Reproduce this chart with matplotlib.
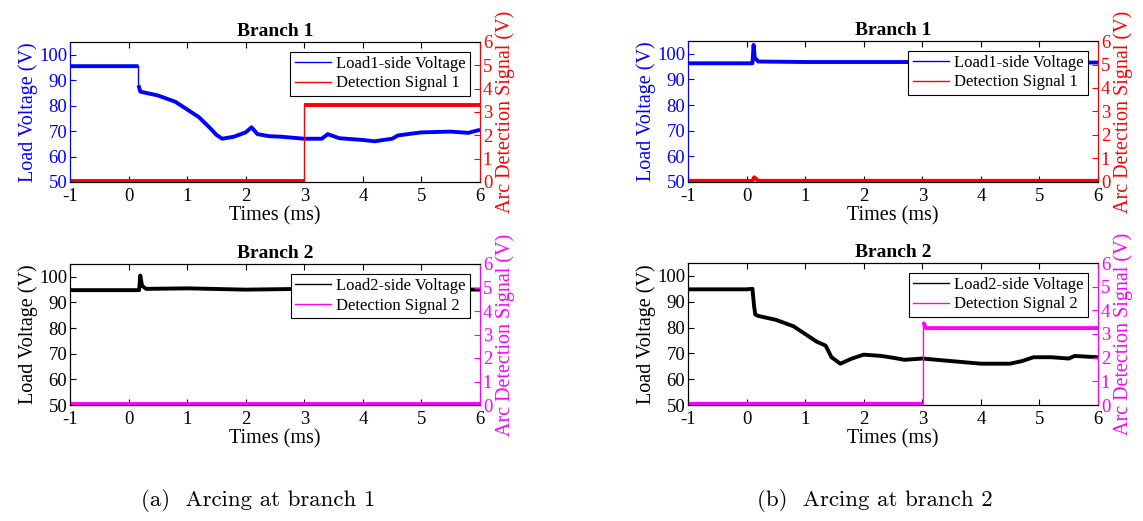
import matplotlib
matplotlib.use("Agg")
import numpy as np
import matplotlib.pyplot as plt

plt.rcParams['font.family'] = ['Liberation Serif', 'DejaVu Serif']
plt.rcParams['axes.unicode_minus'] = False

# time axis (ms) and readings, case (a): arcing at branch 1
a_v1_t = [-1.0, 0.17, 0.17, 0.2, 0.5, 0.8, 1.0, 1.2, 1.4, 1.5, 1.6, 1.8, 2.0, 2.1, 2.2, 2.4,
          2.6, 3.0, 3.3, 3.4, 3.6, 4.0, 4.2, 4.5, 4.6, 5.0, 5.5, 5.8, 6.0]
a_v1 = [95.5, 95.5, 88.0, 85.5, 84.0, 81.5, 78.5, 75.5, 71.0, 68.5, 67.0, 67.8, 69.5, 71.5, 68.8, 68.0,
        67.8, 67.0, 67.0, 68.8, 67.2, 66.5, 66.0, 67.0, 68.3, 69.5, 69.8, 69.3, 70.5]
a_s1_t = [-1.0, 3.0, 3.0, 6.0]
a_s1 = [0.05, 0.05, 3.3, 3.3]
a_v2_t = [-1.0, 0.18, 0.2, 0.23, 0.3, 1.0, 2.0, 3.0, 4.0, 5.0, 6.0]
a_v2 = [94.8, 94.8, 100.5, 96.5, 95.3, 95.5, 95.0, 95.3, 95.2, 95.2, 95.0]
a_s2_t = [-1.0, 6.0]
a_s2 = [0.05, 0.05]

# case (b): arcing at branch 2
b_v1_t = [-1.0, 0.1, 0.12, 0.14, 0.2, 1.0, 2.0, 3.0, 4.0, 5.0, 6.0]
b_v1 = [96.3, 96.3, 103.5, 98.5, 97.0, 96.8, 96.8, 96.8, 96.6, 96.6, 96.6]
b_s1_t = [-1.0, 0.1, 0.13, 0.2, 6.0]
b_s1 = [0.05, 0.05, 0.2, 0.05, 0.05]
b_v2_t = [-1.0, 0.0, 0.1, 0.13, 0.15, 0.2, 0.5, 0.8, 1.0, 1.2, 1.35, 1.45, 1.6, 1.8, 2.0, 2.3, 2.5,
          2.7, 3.0, 3.5, 4.0, 4.5, 4.7, 4.9, 5.2, 5.5, 5.6, 6.0]
b_v2 = [94.8, 94.8, 95.0, 88.0, 85.0, 84.5, 83.0, 80.5, 77.5, 74.5, 73.0, 68.5, 66.0, 68.0, 69.5, 69.0, 68.3,
        67.5, 68.0, 67.0, 66.0, 66.0, 67.0, 68.5, 68.5, 68.0, 69.0, 68.5]
b_s2_t = [-1.0, 3.02, 3.02, 3.06, 6.0]
b_s2 = [0.05, 0.05, 3.5, 3.25, 3.25]

W, H = 1143, 521
fig = plt.figure(figsize=(W / 100, H / 100), dpi=100)
FS = 13.5


def trace(ax, t, y, col):
    # thin line everywhere, thick band where the signal is not jumping
    ax.plot(t, y, color=col, lw=1.0)
    tt, yy = [t[0]], [y[0]]
    for i in range(1, len(t)):
        if t[i] == t[i - 1]:
            tt.append(t[i])
            yy.append(np.nan)
        tt.append(t[i])
        yy.append(y[i])
    ax.plot(tt, yy, color=col, lw=2.8, solid_capstyle='butt')


def panel(box, title, t_v, v, t_s, s, vcol, scol, vlab, slab):
    l, t, r, b = box
    ax = fig.add_axes([l / W, 1 - b / H, (r - l) / W, (b - t) / H])
    ax2 = ax.twinx()
    trace(ax, t_v, v, vcol)
    trace(ax2, t_s, s, scol)
    ax.set_xlim(-1, 6)
    ax.set_xticks(range(-1, 7))
    ax.set_ylim(50, 105)
    ax.set_yticks(range(50, 101, 10))
    ax2.set_ylim(0, 6)
    ax2.set_yticks(range(0, 7))
    ax.set_title(title, fontsize=14, fontweight='bold', pad=4)
    ax.set_xlabel('Times (ms)', fontsize=14.5, labelpad=1)
    ax.set_ylabel('Load Voltage (V)', fontsize=14.5, color=vcol, labelpad=1)
    ax2.set_ylabel('Arc Detection Signal (V)', fontsize=14.5, color=scol, labelpad=2)
    ax.tick_params(axis='x', direction='in', top=True, labelsize=FS, length=4, pad=4)
    ax.tick_params(axis='y', direction='in', colors=vcol, labelsize=FS, length=4, pad=2)
    ax2.tick_params(axis='y', direction='in', colors=scol, labelsize=FS, length=4, pad=2)
    ax2.spines['left'].set_color(vcol)
    ax2.spines['right'].set_color(scol)
    ax.spines['left'].set_color(vcol)
    ax.spines['right'].set_color(scol)
    h1 = plt.Line2D([], [], color=vcol, lw=1.0)
    h2 = plt.Line2D([], [], color=scol, lw=1.0)
    leg = ax2.legend([h1, h2], [vlab, slab], loc='upper right', fontsize=12,
                     fancybox=False, edgecolor='black', framealpha=1,
                     borderpad=0.25, labelspacing=0.2, handlelength=2.2,
                     handletextpad=0.3, borderaxespad=0.6)
    leg.get_frame().set_linewidth(0.8)


panel((70, 42, 480, 182), 'Branch 1', a_v1_t, a_v1, a_s1_t, a_s1, 'blue', 'red',
      'Load1-side Voltage', 'Detection Signal 1')
panel((70, 264, 480, 405), 'Branch 2', a_v2_t, a_v2, a_s2_t, a_s2, 'black', 'magenta',
      'Load2-side Voltage', 'Detection Signal 2')
panel((688, 41, 1098, 182), 'Branch 1', b_v1_t, b_v1, b_s1_t, b_s1, 'blue', 'red',
      'Load1-side Voltage', 'Detection Signal 1')
panel((688, 263, 1098, 405), 'Branch 2', b_v2_t, b_v2, b_s2_t, b_s2, 'black', 'magenta',
      'Load2-side Voltage', 'Detection Signal 2')

fig.text(258 / W, 1 - 500 / H, '(a)  Arcing at branch 1', family='cmr10', fontsize=16.5,
         ha='center', va='center')
fig.text(875 / W, 1 - 500 / H, '(b)  Arcing at branch 2', family='cmr10', fontsize=16.5,
         ha='center', va='center')

fig.savefig('out.png', dpi=100)
